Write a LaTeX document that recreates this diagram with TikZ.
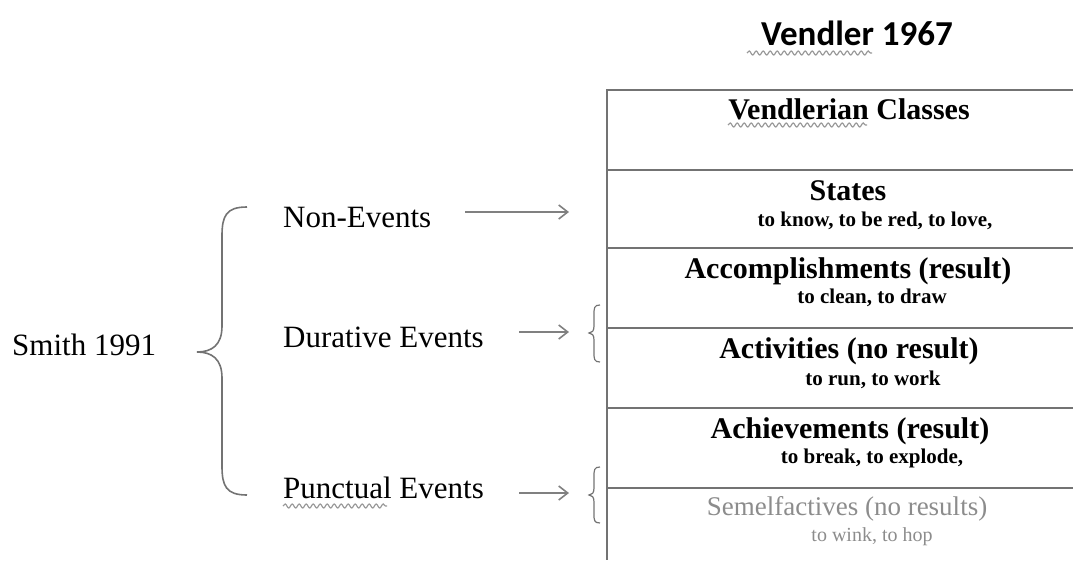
\documentclass[tikz,border=0pt]{standalone}
\usepackage{fontspec}
\setmainfont{Liberation Serif}
\newfontfamily\headfont{Carlito}
\usetikzlibrary{arrows.meta,decorations.pathmorphing}

\tikzset{
  lbl/.style={anchor=base, inner sep=0pt, font=\fontsize{31}{33}\selectfont},
  cls/.style={anchor=base, inner sep=0pt, font=\bfseries\fontsize{30}{32}\selectfont},
  ex/.style={anchor=base, inner sep=0pt, font=\bfseries\fontsize{21}{23}\selectfont},
  rule/.style={line width=2.2pt, color=black!55},
  maparrow/.style={line width=1.6pt, color=black!50, -{Straight Barb[length=9pt, width=14pt, line width=1.6pt]}},
  bracket/.style={line width=1.6pt, color=black!55},
  squiggle/.style={line width=1.2pt, color=black!40, decorate, decoration={snake, segment length=7pt, amplitude=2pt}}
}

\begin{document}
\begin{tikzpicture}[x=1pt, y=-1pt]
			%%%%% START %%%%%
			\useasboundingbox (0, 0) rectangle (1073, 560);
			
			% title
			\node[anchor=base, inner sep=0pt, font=\headfont\bfseries\fontsize{35}{37}\selectfont] (title) at (857, 45) {Vendler 1967};
			\draw[squiggle] (747, 53) -- (872, 53);
			
			% table
			\draw[rule] (1073, 90) -- (607, 90) -- (607, 560);
			\draw[rule] (607, 170) -- (1073, 170);
			\draw[rule] (607, 248) -- (1073, 248);
			\draw[rule] (607, 328) -- (1073, 328);
			\draw[rule] (607, 408) -- (1073, 408);
			\draw[rule] (607, 488) -- (1073, 488);
			
			\node[cls] (classes) at (849, 119) {Vendlerian Classes};
			\draw[squiggle] (728, 125) -- (867, 125);
			
			\node[cls] (states) at (848, 200) {States};
			\node[ex] (statesex) at (875, 226) {to know, to be red, to love,};
			
			\node[cls] (accomp) at (848, 278) {Accomplishments (result)};
			\node[ex] (accompex) at (872, 303) {to clean, to draw};
			
			\node[cls] (activ) at (849, 358) {Activities (no result)};
			\node[ex] (activex) at (873, 385) {to run, to work};
			
			\node[cls] (achiev) at (850, 438) {Achievements (result)};
			\node[ex] (achievex) at (872, 463) {to break, to explode,};
			
			\node[lbl, font=\fontsize{27}{29}\selectfont, text=black!45] (semel) at (847, 515) {Semelfactives (no results)};
			\node[lbl, font=\fontsize{20}{22}\selectfont, text=black!45] (semelex) at (872, 541) {to wink, to hop};
			
			% Smith side
			\node[lbl, anchor=base west] (smith) at (12, 355) {Smith 1991};
			\draw[bracket] (247, 207) .. controls (226, 207) and (222, 216) .. (222, 236) -- (222, 326) .. controls (222, 345) and (212, 352) .. (197, 352)
			  .. controls (212, 352) and (222, 359) .. (222, 378) -- (222, 466) .. controls (222, 486) and (226, 495) .. (247, 495);
			
			\node[lbl, anchor=base west] (nonev) at (283, 227) {Non-Events};
			\node[lbl, anchor=base west] (durev) at (283, 347) {Durative Events};
			\node[lbl, anchor=base west] (punev) at (283, 498) {Punctual Events};
			\draw[squiggle] (283, 506) -- (387, 506);
			
			\coordinate (nonstart) at (465, 212);
			\coordinate (nonend) at (569, 212);
			\coordinate (durstart) at (519, 332);
			\coordinate (durend) at (569, 332);
			\coordinate (punstart) at (519, 493);
			\coordinate (punend) at (569, 493);
			\draw[maparrow] (nonstart) -- (nonend);
			\draw[maparrow] (durstart) -- (durend);
			\draw[maparrow] (punstart) -- (punend);
			
			% small brackets
			\draw[bracket, line width=1.2pt] (600, 305) .. controls (594, 305) and (594, 308) .. (594, 315) -- (594, 326) .. controls (594, 331) and (592, 333) .. (589, 333)
			  .. controls (592, 333) and (594, 335) .. (594, 340) -- (594, 352) .. controls (594, 359) and (594, 362) .. (600, 362);
			\draw[bracket, line width=1.2pt] (600, 467) .. controls (594, 467) and (594, 470) .. (594, 477) -- (594, 488) .. controls (594, 493) and (592, 495) .. (589, 495)
			  .. controls (592, 495) and (594, 497) .. (594, 502) -- (594, 514) .. controls (594, 520) and (594, 523) .. (600, 523);
			
			%%%%% END %%%%%
		\end{tikzpicture}
\end{document}
